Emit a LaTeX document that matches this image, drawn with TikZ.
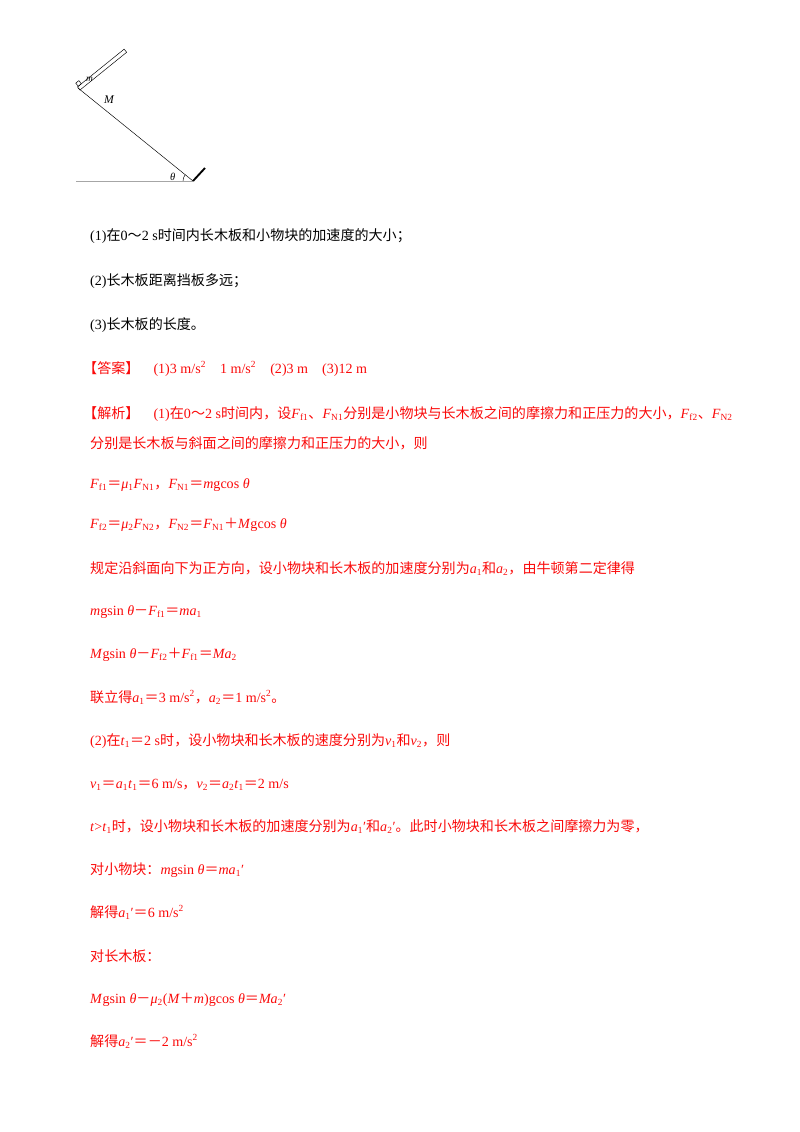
\documentclass[tikz,border=0pt]{standalone}
\usepackage{fontspec}
\setmainfont{Liberation Serif}
\newfontfamily\cjk{Noto Sans CJK SC}
\newcommand\zh[1]{{\cjk #1}}
\newcommand\iv[1]{\textit{#1}}
\newcommand\lo[1]{\textsubscript{#1}}
\newcommand\hi[1]{\textsuperscript{#1}}
\definecolor{ans}{RGB}{250,10,10}
\begin{document}
\begin{tikzpicture}[x=0.3mm,y=-0.3mm,
  txt/.style={anchor=base west,inner sep=0,font=\fontsize{12}{14}\selectfont},
  red/.style={txt,text=ans}]
\useasboundingbox (0,0) rectangle (800,1132);
% diagram
\draw[gray!70,line width=0.5pt] (76,181) -- (193,181);
\draw[line width=0.4pt] (78,88) -- (193,181);
\draw[line width=1.6pt] (193,181) -- (205,168);
\begin{scope}[shift={(80,90)},rotate=38.96]
  \draw[line width=0.4pt] (0,0) rectangle (60,-4);
  \draw[line width=0.4pt] (1,-4) rectangle (5,-8);
\end{scope}
\draw[line width=0.4pt] (183,181) arc[start angle=180,end angle=219,radius=10];
\node[txt,font=\fontsize{8}{9}\selectfont\itshape] (m) at (86,81) {m};
\node[txt,font=\fontsize{10}{11}\selectfont\itshape] (M) at (104,103) {M};
\node[txt,font=\fontsize{9}{10}\selectfont\itshape] (th) at (170,180) {θ};
% questions
\node[txt] (q1) at (90,240) {(1)\zh{在}0\zh{～}2 s\zh{时间内长木板和小物块的加速度的大小；}};
\node[txt] (q2) at (90,285) {(2)\zh{长木板距离挡板多远；}};
\node[txt] (q3) at (90,329) {(3)\zh{长木板的长度。}};
\node[red] (a) at (83,373) {\zh{【答案】}\quad (1)3 m/s\hi{2}\quad 1 m/s\hi{2}\quad (2)3 m\quad (3)12 m};
\node[red] (j1) at (83,418) {\zh{【解析】}\quad (1)\zh{在}0\zh{～}2 s\zh{时间内，设}\iv{F}\lo{f1}\zh{、}\iv{F}\lo{N1}\zh{分别是小物块与长木板之间的摩擦力和正压力的大小，}\iv{F}\lo{f2}\zh{、}\iv{F}\lo{N2}};
\node[red] (j2) at (90,448) {\zh{分别是长木板与斜面之间的摩擦力和正压力的大小，则}};
\node[red] (e1) at (90,488) {\iv{F}\lo{f1}\zh{＝}\iv{μ}\lo{1}\iv{F}\lo{N1}\zh{，}\iv{F}\lo{N1}\zh{＝}\iv{m}gcos\ \iv{θ}};
\node[red] (e2) at (90,528) {\iv{F}\lo{f2}\zh{＝}\iv{μ}\lo{2}\iv{F}\lo{N2}\zh{，}\iv{F}\lo{N2}\zh{＝}\iv{F}\lo{N1}\zh{＋}\iv{M}gcos\ \iv{θ}};
\node[red] (e3) at (90,573) {\zh{规定沿斜面向下为正方向，设小物块和长木板的加速度分别为}\iv{a}\lo{1}\zh{和}\iv{a}\lo{2}\zh{，由牛顿第二定律得}};
\node[red] (e4) at (90,615) {\iv{m}gsin\ \iv{θ}\zh{－}\iv{F}\lo{f1}\zh{＝}\iv{ma}\lo{1}};
\node[red] (e5) at (90,658) {\iv{M}gsin\ \iv{θ}\zh{－}\iv{F}\lo{f2}\zh{＋}\iv{F}\lo{f1}\zh{＝}\iv{Ma}\lo{2}};
\node[red] (e6) at (90,702) {\zh{联立得}\iv{a}\lo{1}\zh{＝}3 m/s\hi{2}\zh{，}\iv{a}\lo{2}\zh{＝}1 m/s\hi{2}\zh{。}};
\node[red] (e7) at (90,745) {(2)\zh{在}\iv{t}\lo{1}\zh{＝}2 s\zh{时，设小物块和长木板的速度分别为}\iv{v}\lo{1}\zh{和}\iv{v}\lo{2}\zh{，则}};
\node[red] (e8) at (90,788) {\iv{v}\lo{1}\zh{＝}\iv{a}\lo{1}\iv{t}\lo{1}\zh{＝}6 m/s\zh{，}\iv{v}\lo{2}\zh{＝}\iv{a}\lo{2}\iv{t}\lo{1}\zh{＝}2 m/s};
\node[red] (e9) at (90,831) {\iv{t}>\iv{t}\lo{1}\zh{时，设小物块和长木板的加速度分别为}\iv{a}\lo{1}′\zh{和}\iv{a}\lo{2}′\zh{。此时小物块和长木板之间摩擦力为零，}};
\node[red] (e10) at (90,874) {\zh{对小物块：}\iv{m}gsin\ \iv{θ}\zh{＝}\iv{ma}\lo{1}′};
\node[red] (e11) at (90,917) {\zh{解得}\iv{a}\lo{1}′\zh{＝}6 m/s\hi{2}};
\node[red] (e12) at (90,961) {\zh{对长木板：}};
\node[red] (e13) at (90,1003) {\iv{M}gsin\ \iv{θ}\zh{－}\iv{μ}\lo{2}(\iv{M}\zh{＋}\iv{m})gcos\ \iv{θ}\zh{＝}\iv{Ma}\lo{2}′};
\node[red] (e14) at (90,1046) {\zh{解得}\iv{a}\lo{2}′\zh{＝－}2 m/s\hi{2}};
\end{tikzpicture}
\end{document}
